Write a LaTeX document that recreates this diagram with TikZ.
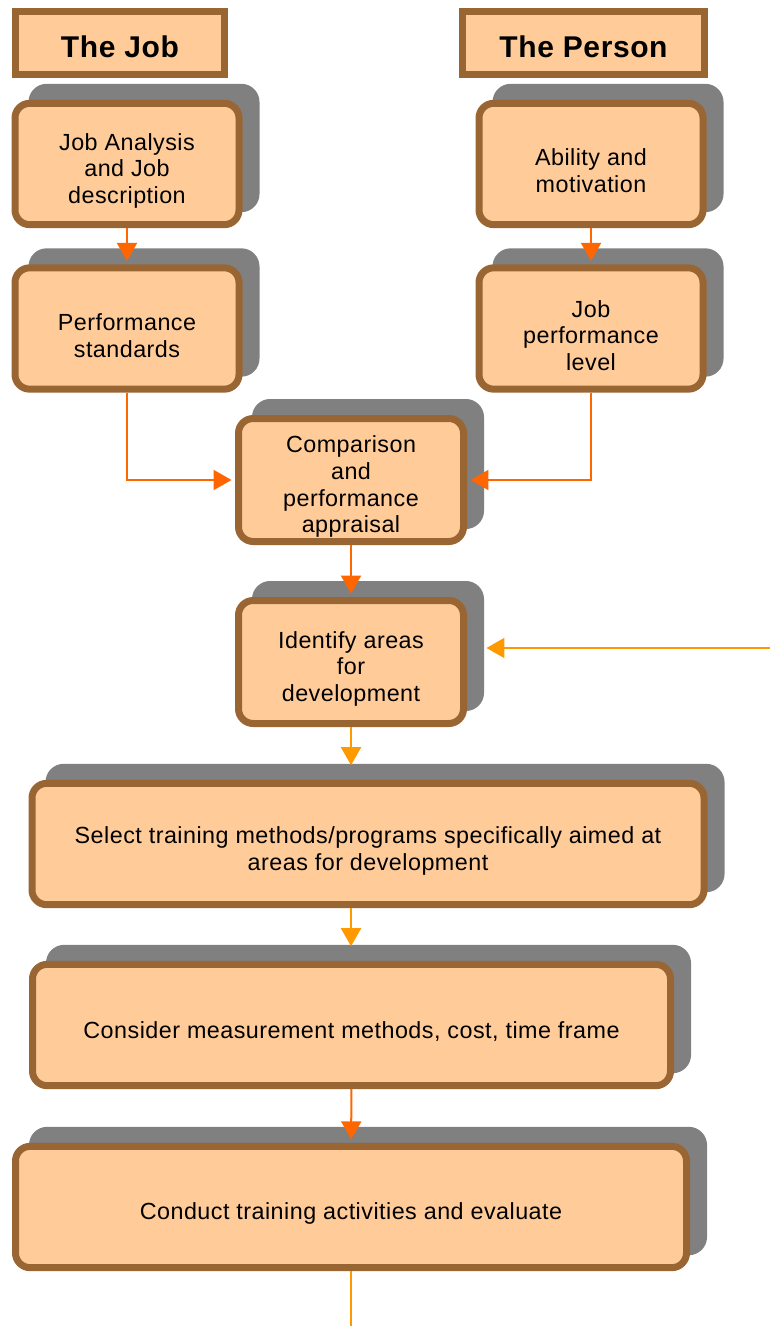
\documentclass[tikz,border=0pt]{standalone}
\usepackage{fontspec}
\setmainfont{Liberation Sans}[LetterSpace=2]
\usetikzlibrary{arrows.meta,shadows}

\definecolor{boxfill}{HTML}{FFCC99}
\definecolor{boxline}{HTML}{996633}
\definecolor{shadowgray}{HTML}{808080}
\definecolor{arrowred}{HTML}{FF6600}
\definecolor{arrowamber}{HTML}{FF9900}

% pushes the text a little below the middle of a box
\newcommand{\boxstrut}{\rule{0pt}{23pt}}

\tikzset{
	header/.style={draw=boxline, fill=boxfill, line width=5.25pt, minimum height=47.25pt, inner sep=0pt, font=\fontsize{22.5}{24}\selectfont\bfseries, execute at begin node={\rule{0pt}{22pt}}},
	stepbox/.style={draw=boxline, fill=boxfill, line width=5.25pt, rounded corners=11pt, align=center, inner sep=0pt, minimum height=91pt, font=\fontsize{17.5}{20}\selectfont, general shadow={draw=shadowgray, fill=shadowgray, shadow xshift=12.75pt, shadow yshift=12pt}},
	redarrow/.style={draw=arrowred, line width=1.5pt, -{Triangle[width=15pt,length=13.5pt]}, shorten >=2.6pt},
	amberarrow/.style={draw=arrowamber, line width=1.5pt, -{Triangle[width=15pt,length=13.5pt]}},
}

\begin{document}
\begin{tikzpicture}[x=0.75pt, y=-0.75pt]
			\useasboundingbox (0,0) rectangle (770,1326);
			% headers
			\node[header, minimum width=156.75pt] (jobhdr) at (120,43) {The Job};
			\node[header, minimum width=181.5pt] (personhdr) at (583.5,43) {The Person};
			% two columns
			\node[stepbox, minimum width=168pt] (jobdesc) at (127,164) {\boxstrut Job Analysis\\and Job\\description};
			\node[stepbox, minimum width=168pt] (perf) at (127,328.5) {\boxstrut Performance\\standards};
			\node[stepbox, minimum width=168pt] (ability) at (591,164) {\boxstrut Ability and\\motivation};
			\node[stepbox, minimum width=168pt] (level) at (591,328.5) {\boxstrut Job\\performance\\level};
			% middle chain
			\node[stepbox, minimum width=168.75pt, minimum height=92.25pt] (compare) at (351,480) {\boxstrut Comparison\\and\\performance\\appraisal};
			\node[stepbox, minimum width=168.75pt, minimum height=92.25pt] (identify) at (351,662) {\boxstrut Identify areas\\for\\development};
			\node[stepbox, minimum width=504pt] (select) at (368,844) {\boxstrut Select training methods/programs specifically aimed at\\areas for development};
			\node[stepbox, minimum width=478.5pt] (consider) at (351.5,1025) {\boxstrut Consider measurement methods, cost, time frame};
			\node[stepbox, minimum width=503.25pt] (conduct) at (351,1207) {\boxstrut Conduct training activities and evaluate};
			% loose ends
			\coordinate (feed) at (770,648);
			\coordinate (feedin) at ([xshift=14.6pt]identify.east);
			\coordinate (tail) at (351,1326);
			% connectors
			\draw[redarrow] (jobdesc) -- (perf);
			\draw[redarrow] (ability) -- (level);
			\draw[redarrow] (perf.south) |- (compare.west);
			\draw[redarrow] (level.south) |- (compare.east);
			\draw[redarrow] (compare) -- (identify);
			\draw[amberarrow] (feed) -- (feed -| feedin);
			\draw[amberarrow, shorten >=11pt] (identify.south) -- (identify.south |- select.north);
			\draw[amberarrow, shorten >=11pt] (select.south -| identify.south) -- (identify.south |- consider.north);
			\draw[redarrow] (consider) -- (conduct);
			\draw[draw=arrowamber, line width=1.5pt] (conduct.south) -- (tail);
		\end{tikzpicture}
\end{document}
